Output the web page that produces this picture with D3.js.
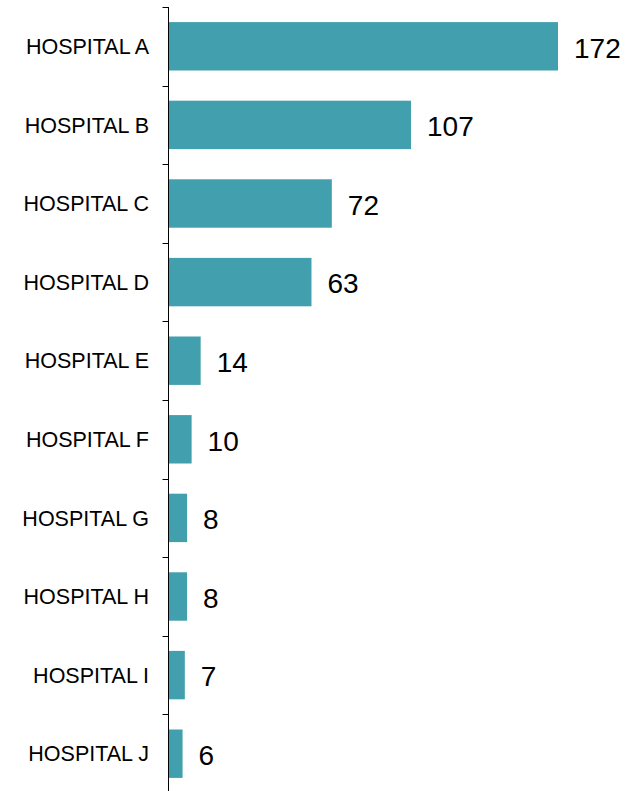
<!DOCTYPE html>
<html>
<head>
<meta charset="utf-8">
<script src="https://cdn.jsdelivr.net/npm/d3@7"></script>
<style>
  html, body { margin: 0; padding: 0; background: #fff; }
  svg { display: block; }
  text { font-family: "Liberation Sans", Arial, sans-serif; }
</style>
</head>
<body>
<svg id="chart" width="643" height="791"></svg>
<script>
const categories = ["HOSPITAL A","HOSPITAL B","HOSPITAL C","HOSPITAL D","HOSPITAL E","HOSPITAL F","HOSPITAL G","HOSPITAL H","HOSPITAL I","HOSPITAL J"];
const values = [172, 107, 72, 63, 14, 10, 8, 8, 7, 6];

(function () {
const svg = d3.select("#chart");
const axisX = 168.5;
const yTop = 7, yBottom = 793;
const x = d3.scaleLinear().domain([0, 172]).range([169, 558]);
const y = d3.scaleBand().domain(categories).range([yTop, yBottom]).paddingInner(0.384).paddingOuter(0.192);

// bars
svg.selectAll("rect.bar").data(categories).enter().append("rect")
  .attr("class", "bar")
  .attr("x", x(0))
  .attr("y", d => y(d))
  .attr("width", (d, i) => x(values[i]) - x(0))
  .attr("height", y.bandwidth())
  .attr("fill", "#42a0ae");

// axis line
svg.append("line")
  .attr("x1", axisX).attr("x2", axisX)
  .attr("y1", yTop).attr("y2", 791)
  .attr("stroke", "#000").attr("stroke-width", 1);

// ticks at band boundaries
const bounds = d3.range(categories.length + 1).map(i => yTop + i * y.step());
svg.selectAll("line.tick").data(bounds).enter().append("line")
  .attr("class", "tick")
  .attr("x1", axisX - 6).attr("x2", axisX)
  .attr("y1", d => Math.round(d) + 0.5).attr("y2", d => Math.round(d) + 0.5)
  .attr("stroke", "#000").attr("stroke-width", 1);

// category labels
svg.selectAll("text.cat").data(categories).enter().append("text")
  .attr("class", "cat")
  .attr("x", 149)
  .attr("y", d => y(d) + y.bandwidth() / 2)
  .attr("dy", "0.36em")
  .attr("text-anchor", "end")
  .attr("font-size", "21.5px")
  .attr("fill", "#000")
  .text(d => d);

// value labels
svg.selectAll("text.val").data(categories).enter().append("text")
  .attr("class", "val")
  .attr("x", (d, i) => x(values[i]) + 16)
  .attr("y", d => y(d) + y.bandwidth() / 2)
  .attr("dy", "0.4em")
  .attr("font-size", "28px")
  .attr("fill", "#000")
  .text((d, i) => values[i]);
})();
</script>
</body>
</html>
